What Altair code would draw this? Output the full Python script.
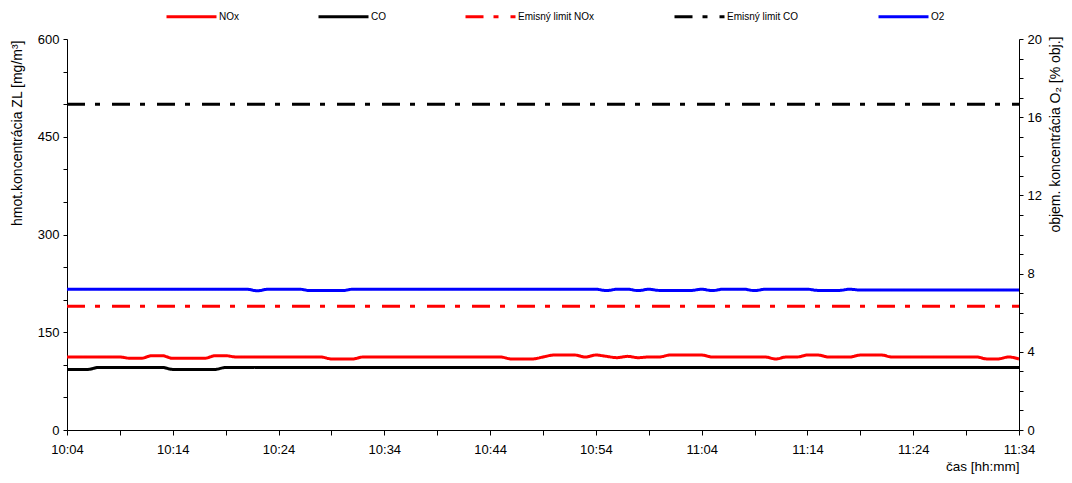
import altair as alt
import pandas as pd

# minutes after 10:04 (one sample per minute, 10:04 .. 11:34)
minutes = list(range(91))

nox = [112, 112, 112, 112, 112, 112, 110, 110, 114, 114,
       110, 110, 110, 110, 114, 114, 112, 112, 112, 112,
       112, 112, 112, 112, 112, 109, 109, 109, 112, 112,
       112, 112, 112, 112, 112, 112, 112, 112, 112, 112,
       112, 112, 109, 109, 109, 112, 115, 115, 115, 112,
       115, 113, 111, 113, 111, 112, 112, 115, 115, 115,
       115, 112, 112, 112, 112, 112, 112, 109, 112, 112,
       115, 115, 112, 112, 112, 115, 115, 115, 112, 112,
       112, 112, 112, 112, 112, 112, 112, 109, 109, 112,
       109]

co = [93, 93, 93, 96, 96, 96, 96, 96, 96, 96,
      93, 93, 93, 93, 93, 96, 96, 96, 96, 96,
      96, 96, 96, 96, 96, 96, 96, 96, 96, 96,
      96, 96, 96, 96, 96, 96, 96, 96, 96, 96,
      96, 96, 96, 96, 96, 96, 96, 96, 96, 96,
      96, 96, 96, 96, 96, 96, 96, 96, 96, 96,
      96, 96, 96, 96, 96, 96, 96, 96, 96, 96,
      96, 96, 96, 96, 96, 96, 96, 96, 96, 96,
      96, 96, 96, 96, 96, 96, 96, 96, 96, 96,
      96]

o2 = [7.2, 7.2, 7.2, 7.2, 7.2, 7.2, 7.2, 7.2, 7.2, 7.2,
      7.2, 7.2, 7.2, 7.2, 7.2, 7.2, 7.2, 7.2, 7.12, 7.2,
      7.2, 7.2, 7.2, 7.13, 7.13, 7.13, 7.13, 7.2, 7.2, 7.2,
      7.2, 7.2, 7.2, 7.2, 7.2, 7.2, 7.2, 7.2, 7.2, 7.2,
      7.2, 7.2, 7.2, 7.2, 7.2, 7.2, 7.2, 7.2, 7.2, 7.2,
      7.2, 7.13, 7.2, 7.2, 7.13, 7.2, 7.14, 7.14, 7.14, 7.14,
      7.2, 7.13, 7.2, 7.2, 7.2, 7.13, 7.2, 7.2, 7.2, 7.2,
      7.2, 7.14, 7.14, 7.14, 7.2, 7.16, 7.16, 7.16, 7.16, 7.16,
      7.16, 7.16, 7.16, 7.16, 7.16, 7.16, 7.16, 7.16, 7.16, 7.16,
      7.16]

limit_nox = 190
limit_co = 500
limit_minutes = [0, 90]

series_order = ["NOx", "CO", "Emisný limit NOx", "Emisný limit CO", "O2"]
series_colors = ["#ff0000", "#000000", "#ff0000", "#000000", "#0000ff"]
series_dashes = [[1, 0], [1, 0], [18, 10, 5, 12], [18, 10, 5, 12], [1, 0]]

x_ticks = list(range(0, 91, 5))
left_ticks = list(range(0, 601, 50))
right_ticks = list(range(0, 21, 1))

rows = []
for m, v in zip(minutes, nox):
    rows.append({"t": m, "v": v, "series": "NOx"})
for m, v in zip(minutes, co):
    rows.append({"t": m, "v": v, "series": "CO"})
for m in limit_minutes:
    rows.append({"t": m, "v": limit_nox, "series": "Emisný limit NOx"})
    rows.append({"t": m, "v": limit_co, "series": "Emisný limit CO"})
left_df = pd.DataFrame(rows)
right_df = pd.DataFrame({"t": minutes, "v": o2, "series": ["O2"] * len(o2)})

FONT = "Liberation Sans"

time_expr = ("(datum.value % 10 == 0) ? (floor((604 + datum.value) / 60) + ':' + "
             "(((604 + datum.value) % 60) < 10 ? '0' : '') + ((604 + datum.value) % 60)) : ''")

x_enc = alt.X("t:Q", scale=alt.Scale(domain=[0, 90], nice=False, zero=False),
              axis=alt.Axis(values=x_ticks, labelExpr=time_expr, title="čas [hh:mm]",
                            titleAnchor="end", titlePadding=3, labelPadding=8,
                            titleFontSize=13.5,
                            tickSize=5, labelFlush=False))

legend = alt.Legend(title=None, orient="none", legendX=98, legendY=-49,
                    direction="horizontal", symbolType="stroke", symbolSize=2500,
                    symbolStrokeWidth=3, labelFontSize=10, labelFont=FONT,
                    columnPadding=73, labelOffset=1, padding=0)

color_enc = alt.Color("series:N", scale=alt.Scale(domain=series_order, range=series_colors),
                      legend=legend, sort=series_order)
dash_enc = alt.StrokeDash("series:N", scale=alt.Scale(domain=series_order, range=series_dashes),
                          legend=legend, sort=series_order)

left = alt.Chart(left_df).mark_line(strokeWidth=3, interpolate="monotone").encode(
    x=x_enc,
    y=alt.Y("v:Q", scale=alt.Scale(domain=[0, 600], nice=False),
            axis=alt.Axis(values=left_ticks,
                          labelExpr="datum.value % 150 == 0 ? datum.label : ''",
                          title="hmot.koncentrácia ZL [mg/m³]",
                          titleAngle=270, titleX=-50, titleY=1, titleAlign="right",
                          titleBaseline="middle",
                          tickSize=4, labelPadding=4)),
    color=color_enc,
    strokeDash=dash_enc,
    detail="series:N",
)

right = alt.Chart(right_df).mark_line(strokeWidth=3, interpolate="monotone").encode(
    x=x_enc,
    y=alt.Y("v:Q", scale=alt.Scale(domain=[0, 20], nice=False),
            axis=alt.Axis(orient="right", values=right_ticks,
                          labelExpr="datum.value % 4 == 0 ? datum.label : ''",
                          title="objem. koncentrácia O₂ [% obj.]",
                          titleAngle=270, titleX=36, titleY=-3, titleAlign="right",
                          titleBaseline="middle",
                          tickSize=4, labelPadding=4)),
    color=color_enc,
    strokeDash=dash_enc,
)

chart = alt.layer(left, right).resolve_scale(y="independent").properties(
    width=952, height=391,
    autosize=alt.AutoSizeParams(type="none"),
    padding={"left": 59, "top": 31, "right": 45, "bottom": 45}
).configure_view(stroke=None).configure_axis(
    grid=False, labelFont=FONT, titleFont=FONT, labelFontSize=13, titleFontSize=14,
    titleFontWeight="normal", labelColor="#000000", titleColor="#000000",
    domainColor="#000000", tickColor="#000000"
)

chart.save("out.html", embed_options={"renderer": "svg", "actions": False})
